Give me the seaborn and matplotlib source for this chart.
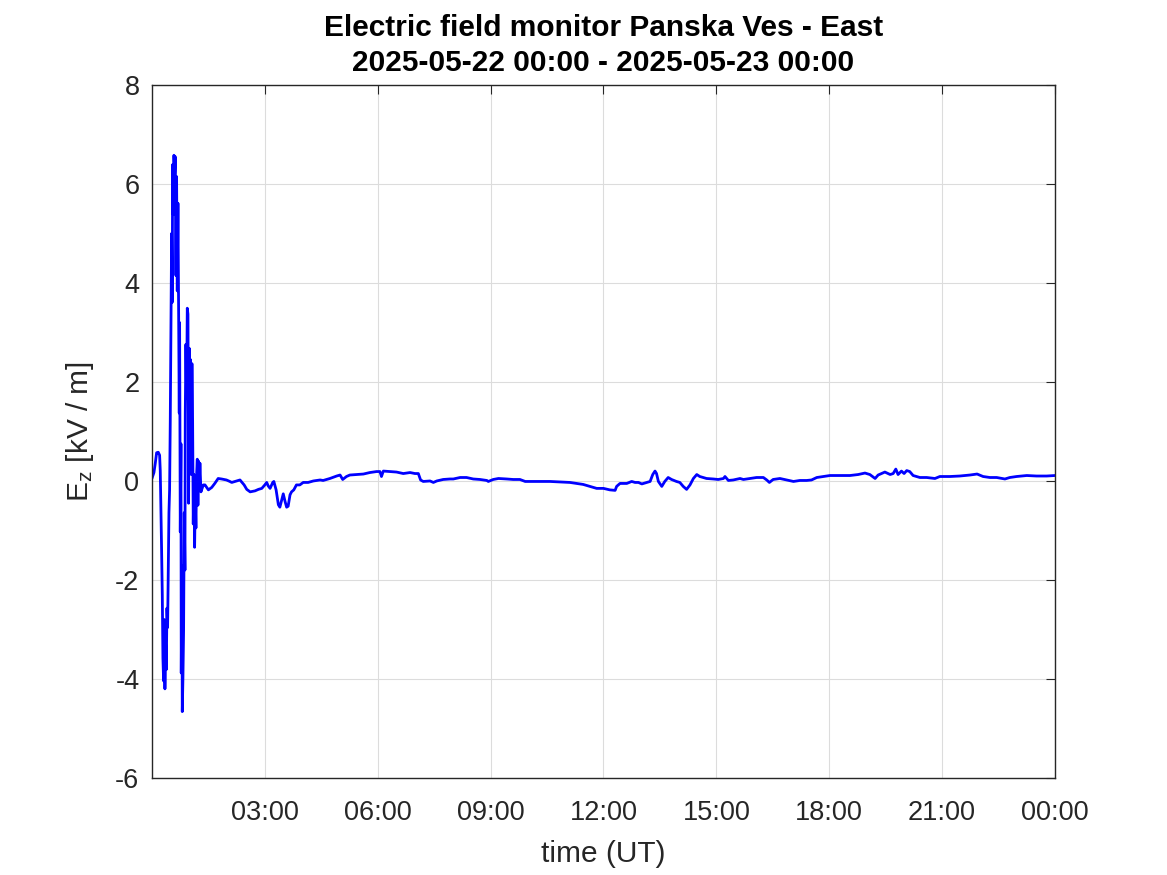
import matplotlib
matplotlib.use("Agg")
import matplotlib.pyplot as plt
import seaborn as sns
import pandas as pd

# time in hours since 2025-05-22 00:00 UT, field in kV/m
hours = [
    0.000, 0.053, 0.089, 0.124, 0.168, 0.204, 0.221, 0.239, 0.257, 0.275,
    0.292, 0.310, 0.328, 0.345, 0.363, 0.381, 0.399, 0.416, 0.434, 0.452,
    0.469, 0.487, 0.505, 0.523, 0.540, 0.549, 0.567, 0.585, 0.602, 0.620,
    0.638, 0.655, 0.673, 0.691, 0.709, 0.726, 0.735, 0.753, 0.771, 0.779,
    0.797, 0.806, 0.824, 0.841, 0.859, 0.877, 0.886, 0.903, 0.921, 0.939,
    0.957, 0.974, 0.992, 1.010, 1.027, 1.045, 1.063, 1.081, 1.098, 1.116,
    1.134, 1.151, 1.169, 1.187, 1.205, 1.222, 1.240, 1.258, 1.275, 1.302,
    1.32, 1.365, 1.41, 1.50, 1.59, 1.67, 1.76, 1.85, 1.98, 2.07,
    2.12, 2.21, 2.34, 2.45, 2.52, 2.61, 2.74, 2.83, 2.92, 3.00,
    3.05, 3.09, 3.14, 3.21, 3.24, 3.30, 3.36, 3.40, 3.45, 3.49,
    3.54, 3.58, 3.62, 3.67, 3.71, 3.77, 3.84, 3.93, 4.02, 4.15,
    4.29, 4.47, 4.55, 4.73, 4.91, 5.00, 5.07, 5.17, 5.26, 5.44,
    5.62, 5.79, 5.97, 6.06, 6.10, 6.15, 6.33, 6.50, 6.68, 6.86,
    6.99, 7.08, 7.14, 7.21, 7.39, 7.48, 7.57, 7.74, 7.92,
    8.01, 8.19, 8.36, 8.54, 8.72, 8.90, 8.94, 9.07, 9.21, 9.43,
    9.60, 9.78, 9.92, 10.14, 10.31, 10.58, 10.85, 11.11, 11.29, 11.46,
    11.64, 11.82, 12.00, 12.17, 12.31, 12.35, 12.44, 12.62, 12.75, 12.84,
    12.93, 13.02, 13.15, 13.24, 13.31, 13.37, 13.41, 13.46, 13.55, 13.63,
    13.72, 13.81, 13.94, 14.03, 14.12, 14.21, 14.30, 14.39, 14.48, 14.56,
    14.74, 14.92, 15.05, 15.19, 15.23, 15.32, 15.45, 15.63,
    15.72, 15.89, 16.07, 16.25, 16.34, 16.41, 16.51, 16.69, 16.87, 17.05,
    17.22, 17.40, 17.53, 17.67, 17.84, 18.02, 18.29, 18.55, 18.77, 18.95,
    19.08, 19.22, 19.30, 19.48, 19.62, 19.70, 19.77, 19.83, 19.92, 19.99,
    20.06, 20.14, 20.23, 20.41, 20.59, 20.81, 20.94, 21.21, 21.47, 21.74,
    21.93, 22.09, 22.27, 22.45, 22.67, 22.80, 22.98, 23.25, 23.51, 23.78,
    24.00,
]
ez = [
    0.05, 0.17, 0.36, 0.57, 0.58, 0.52, 0.21, -0.56, -1.41, -2.30,
    -3.58, -4.04, -2.80, -4.20, -3.27, -3.81, -2.57, -2.96, -1.80, -0.64,
    -0.18, 1.21, 2.99, 5.00, 3.61, 6.39, 5.38, 6.58, 6.15, 6.55,
    4.15, 6.15, 3.84, 5.61, 3.37, 1.37, 3.20, -1.03, 0.75, -3.88,
    -1.72, -4.66, -3.96, -3.03, -0.64, -1.80, 1.37, 2.76, 1.68, 3.49,
    3.37, -0.45, 2.68, 1.83, 2.45, 0.13, 2.37, 1.21, -0.87, 0.13,
    -1.34, -0.33, -0.95, 0.13, 0.44, -0.49, 0.40, -0.10, 0.36, -0.22,
    -0.18, -0.08, -0.08, -0.18, -0.13, -0.05, 0.05, 0.04, 0.02, -0.01,
    -0.03, -0.01, 0.02, -0.08, -0.17, -0.22, -0.20, -0.17, -0.15, -0.08,
    -0.03, -0.10, -0.15, -0.03, -0.01, -0.18, -0.48, -0.53, -0.38, -0.26,
    -0.42, -0.53, -0.51, -0.28, -0.22, -0.18, -0.08, -0.08, -0.03, -0.03,
    0.00, 0.02, 0.01, 0.05, 0.10, 0.12, 0.03, 0.09, 0.12, 0.13,
    0.14, 0.17, 0.19, 0.19, 0.09, 0.20, 0.19, 0.18, 0.15, 0.17,
    0.15, 0.15, 0.02, -0.01, 0.00, -0.03, 0.00, 0.03, 0.04,
    0.04, 0.07, 0.07, 0.04, 0.03, 0.01, -0.01, 0.03, 0.05, 0.04,
    0.03, 0.03, -0.01, -0.01, -0.01, -0.01, -0.02, -0.03, -0.05, -0.07,
    -0.11, -0.15, -0.15, -0.18, -0.19, -0.11, -0.05, -0.05, -0.01, -0.03,
    -0.03, -0.06, -0.03, -0.01, 0.13, 0.20, 0.15, -0.01, -0.11, -0.01,
    0.07, 0.03, -0.01, -0.03, -0.11, -0.17, -0.08, 0.05, 0.13, 0.09,
    0.05, 0.04, 0.03, 0.05, 0.09, 0.01, 0.02, 0.05,
    0.03, 0.05, 0.07, 0.07, 0.02, -0.03, 0.03, 0.05, 0.02, -0.01,
    0.01, 0.01, 0.02, 0.07, 0.09, 0.11, 0.11, 0.11, 0.13, 0.16,
    0.13, 0.05, 0.12, 0.18, 0.13, 0.15, 0.24, 0.13, 0.20, 0.15,
    0.21, 0.19, 0.11, 0.07, 0.07, 0.05, 0.09, 0.09, 0.10, 0.12,
    0.14, 0.09, 0.07, 0.07, 0.04, 0.07, 0.09, 0.11, 0.10, 0.10,
    0.11,
]

xtick_hours = [3, 6, 9, 12, 15, 18, 21, 24]
xtick_labels = ["03:00", "06:00", "09:00", "12:00", "15:00", "18:00", "21:00", "00:00"]
ytick_values = [-6, -4, -2, 0, 2, 4, 6, 8]

title_text = "Electric field monitor Panska Ves - East\n2025-05-22 00:00 - 2025-05-23 00:00"

sns.set_style("white")
plt.rcParams["font.family"] = ["Liberation Sans", "DejaVu Sans"]
plt.rcParams["axes.unicode_minus"] = False
plt.rcParams["mathtext.default"] = "regular"

df = pd.DataFrame({"hours": hours, "ez": ez})

fig = plt.figure(figsize=(11.67, 8.75), dpi=100)
ax = fig.add_axes([0.1302, 0.1109, 0.7738, 0.7920])

sns.lineplot(data=df, x="hours", y="ez", ax=ax, color="#0000ff",
             linewidth=2.0, estimator=None, sort=False)

ax.set_xlim(0, 24)
ax.set_ylim(-6, 8)
ax.set_xticks(xtick_hours)
ax.set_xticklabels(xtick_labels)
ax.set_yticks(ytick_values)
ax.set_yticklabels([str(v) for v in ytick_values])

dark = "#262626"
for s in ax.spines.values():
    s.set_visible(True)
    s.set_color(dark)
    s.set_linewidth(1.0)
ax.tick_params(axis="both", direction="in", length=6.5, width=0.8,
               colors=dark, labelsize=19.5, top=True, right=True,
               labelcolor=dark, pad=9)
ax.tick_params(axis="x", pad=16)
ax.grid(True, color="#dcdcdc", linewidth=0.8)
ax.set_axisbelow(True)

ax.set_xlabel("time (UT)", fontsize=21.5, color=dark, labelpad=10)
ax.set_ylabel("E$_{z}$ [kV / m]", fontsize=21.5, color=dark, labelpad=14)
ax.set_title(title_text, fontsize=21.5, fontweight="bold", color="black",
             pad=10, linespacing=1.32)

fig.savefig("out.png", dpi=100, facecolor="white")
